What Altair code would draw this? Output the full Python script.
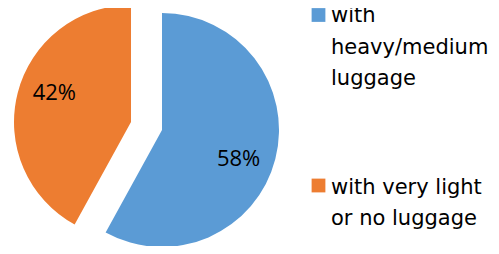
import altair as alt
import pandas as pd
import math

categories = ["with heavy/medium luggage", "with very light or no luggage"]
legend_labels = ["with\nheavy/medium\nluggage", "with very light\nor no luggage"]
values = [58, 42]
explode = [0, 32]
colors = ["#5B9BD5", "#ED7D31"]

df = pd.DataFrame({"category": categories, "value": values, "explode": explode,
                   "label": legend_labels, "order": [0, 1]})

TOP = 6
CX, CY, R, LR, LSHIFT = 154, 122 - TOP, 117, 82, 0.113
FONT = "Open Sans"
LEGEND_FONT = "DejaVu Sans"

color = alt.Color("category:N", scale=alt.Scale(domain=categories, range=colors), legend=None)

base = alt.Chart(df).transform_window(
    cum="sum(value)", sort=[alt.SortField("order")], frame=[None, 0]
).transform_calculate(
    start="datum.cum - datum.value",
    mid="(datum.cum - datum.value/2) / 100 * 2 * PI",
).transform_calculate(
    cx=f"{CX} + datum.explode * sin(datum.mid)",
    cy=f"{CY} - datum.explode * cos(datum.mid)",
).transform_calculate(
    lx=f"datum.cx + {LR} * sin(datum.mid + {LSHIFT})",
    ly=f"datum.cy - {LR} * cos(datum.mid + {LSHIFT})",
    pct="datum.value + '%'",
)

arcs = base.mark_arc(radius=R).encode(
    theta=alt.Theta("start:Q", scale=alt.Scale(domain=[0, 100], range=[0, 2 * math.pi])),
    theta2="cum:Q",
    x=alt.X("cx:Q", scale=None),
    y=alt.Y("cy:Q", scale=None),
    color=color,
)

pcts = base.mark_text(font=FONT, fontSize=22, color="#000000").encode(
    x=alt.X("lx:Q", scale=None),
    y=alt.Y("ly:Q", scale=None),
    text="pct:N",
)

leg = alt.Chart(df).transform_calculate(
    sy=f"datum.order == 0 ? {7 - TOP} : {177.5 - TOP}",
    ty=f"datum.order == 0 ? {14 - TOP} : {185.5 - TOP}",
)
squares = leg.mark_square(size=190, opacity=1).encode(
    x=alt.value(310.5),
    y=alt.Y("sy:Q", scale=None),
    color=color,
)
texts = leg.mark_text(font=LEGEND_FONT, fontSize=21, align="left", baseline="alphabetic",
                      lineBreak="\n", lineHeight=31.5, color="#000000").encode(
    x=alt.value(323),
    y=alt.Y("ty:Q", scale=None),
    text="label:N",
)

chart = alt.layer(arcs, pcts, squares, texts).properties(
    width=483, height=238 - TOP,
    padding={"left": 0, "top": TOP, "right": 0, "bottom": 0},
    autosize=alt.AutoSizeParams(type="none"),
).configure_view(stroke=None)

chart.save("out.html", embed_options={"renderer": "svg", "actions": False})
